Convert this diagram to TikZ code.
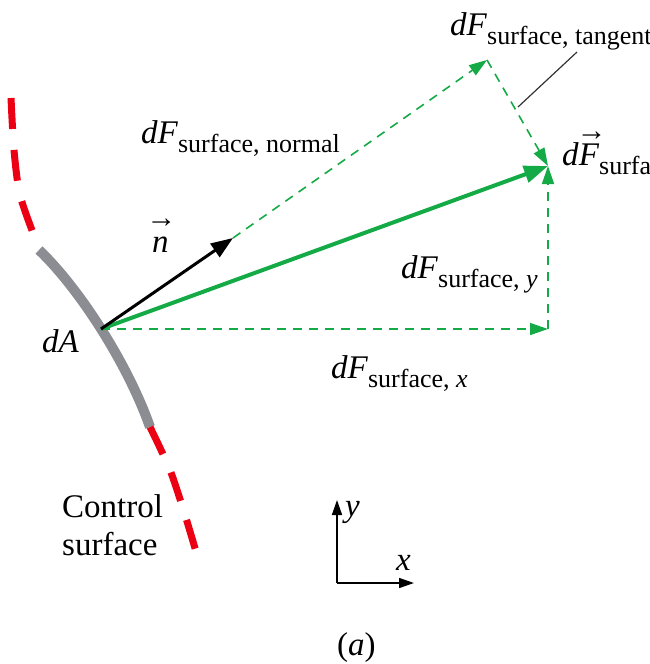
\documentclass[tikz,border=0pt]{standalone}
\usepackage{fontspec}
\setmainfont{Liberation Serif}
\usetikzlibrary{arrows.meta}
\definecolor{fgreen}{RGB}{20,170,70}
\definecolor{cred}{RGB}{235,0,20}
\definecolor{cgray}{RGB}{140,141,146}
\newcommand{\subt}[1]{\raisebox{-9pt}{\fontsize{26}{26}\selectfont #1}}
\newcommand{\ovarr}[3]{{\ooalign{#1\cr\hidewidth\kern#2\raisebox{#3}{\fontsize{30}{30}\selectfont →}\hidewidth\cr}}}
\begin{document}
\begin{tikzpicture}[x=1pt,y=-1pt,
  lbl/.style={inner sep=0pt, anchor=base west, font=\fontsize{33}{33}\selectfont},
  vecg/.style={draw=fgreen, line width=4pt, -{Triangle[length=24pt,width=17pt]}},
  compg/.style={draw=fgreen, line width=1.6pt, dash pattern=on 9pt off 7pt, -{Triangle[length=18pt,width=12pt]}},
  normv/.style={draw=black, line width=3pt, -{Triangle[length=22pt,width=16pt]}},
  axisline/.style={draw=black, line width=1.5pt, -{Triangle[length=15pt,width=10pt]}},
  csred/.style={draw=cred, line width=7pt, dash pattern=on 31pt off 21pt},
  csgray/.style={draw=cgray, line width=10pt},
  leader/.style={draw=black!80, line width=1.2pt}]
\clip (0,0) rectangle (650,664);
\useasboundingbox (0,0) rectangle (650,664);

% control surface
\draw[csred] plot[smooth] coordinates {(11,98) (14,150) (20,195) (35,238)};
\draw[csgray] (39,250) .. controls (78,287) and (127,362) .. (150,427);
\draw[csred, dash pattern=on 30pt off 20pt] plot[smooth] coordinates {(150,427) (170,470) (185,515) (197,555)};

% points
\coordinate (O) at (101,329);
\coordinate (N) at (233,238);
\coordinate (T) at (487,60);
\coordinate (P) at (548,166);
\coordinate (X) at (548,329);

% components
\draw[compg] (N) -- (T);
\draw[compg] (T) -- (P);
\draw[compg] (O) -- (X);
\draw[compg] (X) -- (P);
\draw[vecg] (O) -- (P);
\draw[normv] (O) -- (N);

% leader
\coordinate (L1) at (518,107);
\coordinate (L2) at (577,52);
\draw[leader] (L1) -- (L2);

% labels
\node[lbl] (ltan) at (450,35) {\textit{dF}\subt{surface, tangent}};
\node[lbl] (lnorm) at (141,143) {\textit{dF}\subt{surface, normal}};
\node[lbl] (ly) at (401,278) {\textit{dF}\subt{surface, \textit{y}}};
\node[lbl] (lx) at (331,378) {\textit{dF}\subt{surface, \textit{x}}};
\node[lbl] (lres) at (562,165) {\textit{d}\ovarr{\textit{F}}{5pt}{25pt}\subt{surface}};
\node[lbl] (ldA) at (42,352) {\textit{dA}};
\node[lbl] (ln) at (152,252) {\ovarr{\textit{n}}{2pt}{25pt}};
\node[lbl] (lcs1) at (62,517) {Control};
\node[lbl] (lcs2) at (62,555) {surface};

% axes
\coordinate (A0) at (337,583);
\coordinate (AY) at (337,500);
\coordinate (AX) at (414,583);
\draw[axisline] (A0) -- (AY);
\draw[axisline] (A0) -- (AX);
\node[lbl] (lay) at (345,516) {\textit{y}};
\node[lbl] (lax) at (396,570) {\textit{x}};
\node[lbl] (lcap) at (337,655) {(\textit{a})};
\end{tikzpicture}
\end{document}
